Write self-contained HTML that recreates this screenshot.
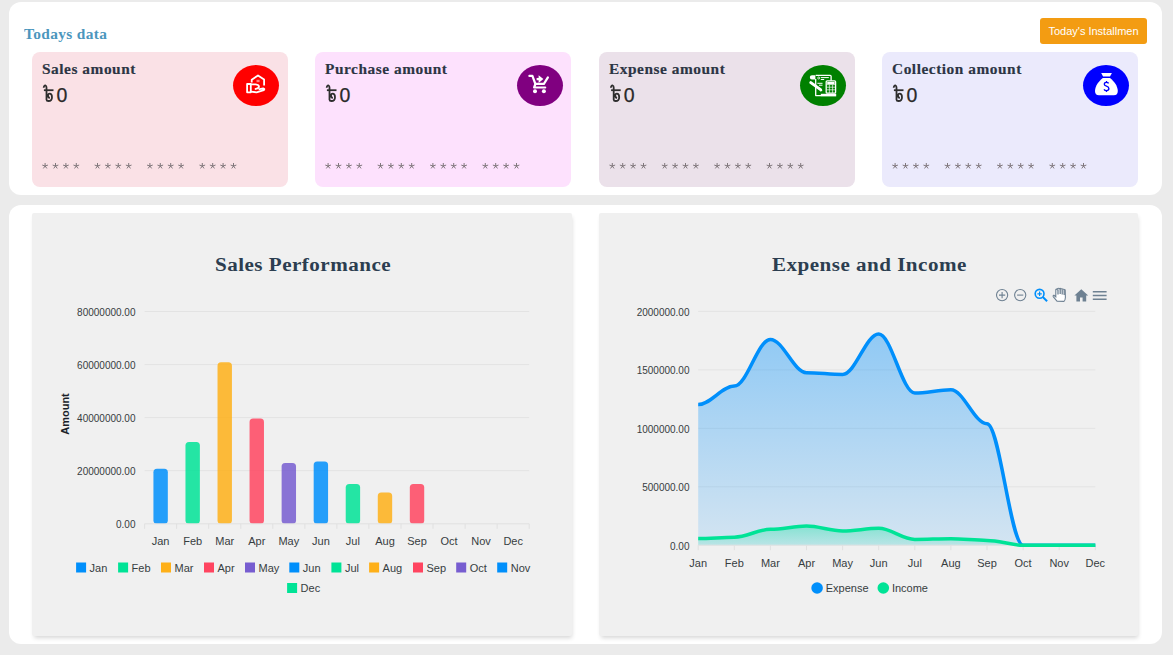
<!DOCTYPE html>
<html><head><meta charset="utf-8">
<style>
*{margin:0;padding:0;box-sizing:border-box}
html,body{width:1173px;height:655px;overflow:hidden;background:#ebebeb;font-family:"Liberation Sans",sans-serif}
.panel{position:absolute;left:9px;width:1153px;background:#fff;border-radius:12px}
.p1{top:2px;height:193px}
.p2{top:205px;height:439px}
.todays{position:absolute;left:24px;top:26px;font-family:"Liberation Serif",serif;font-weight:bold;font-size:14.5px;color:#4b96bd;letter-spacing:0.35px;transform:scaleX(1.06);transform-origin:0 0}
.btn{position:absolute;left:1040px;top:18px;width:107px;height:26px;background:#f39c12;border-radius:3px;color:#fff;font-size:11px;line-height:26px;text-align:center;letter-spacing:0px}
.card{position:absolute;top:52px;width:256px;height:135px;border-radius:8px}
.ct{position:absolute;left:9.5px;top:9px;font-family:"Liberation Serif",serif;font-weight:bold;font-size:14.5px;color:#2c3544;letter-spacing:0.5px;white-space:nowrap;-webkit-text-stroke:0.15px #2c3544;transform:scaleX(1.06);transform-origin:0 0}
.amt{position:absolute;left:11px;top:31px;height:24px;white-space:nowrap}
.tk{position:absolute;left:0;top:2px}
.zero{position:absolute;left:13.5px;top:-0.5px;font-size:19.5px;line-height:24px;color:#2a2a2a;-webkit-text-stroke:0.25px #2a2a2a}
.stars{position:absolute;left:10px;top:107px;font-size:11px;color:#777;letter-spacing:4.5px;white-space:pre;font-family:"Liberation Sans",sans-serif}
.ic{position:absolute;left:201px;top:13px;width:46px;height:41px;border-radius:50%}
.ic svg{position:absolute;left:12.5px;top:10px}
.chart{position:absolute;top:213px;height:423px;background:#f0f0f0;border-radius:2px;box-shadow:1px 3px 4px -1px rgba(0,0,0,0.16)}
.title{position:absolute;top:254px;font-family:"Liberation Serif",serif;font-weight:bold;font-size:19.2px;color:#2c3e50;white-space:nowrap;letter-spacing:0.42px;transform:scaleX(1.1);transform-origin:0 0}
svg.main{position:absolute;left:0;top:0}
.yl{font-size:10px;fill:#373d3f;font-family:"Liberation Sans",sans-serif}
.xl{font-size:11px;fill:#373d3f;font-family:"Liberation Sans",sans-serif}
.lg{font-size:11px;fill:#373d3f;font-family:"Liberation Sans",sans-serif}
.yt{font-size:11px;font-weight:bold;fill:#1b1f2a;font-family:"Liberation Sans",sans-serif}
</style></head><body>
<div class="panel p1"></div>
<div class="panel p2"></div>
<div class="todays">Todays data</div>
<div class="btn">Today's Installmen</div>
<div class="card" style="left:32px;background:#fae1e6">
  <div class="ct">Sales amount</div>
  <div class="amt"><span class="zero">0</span></div>
  <div class="ic" style="background:#ff0000;left:201.0px"></div>
</div><div class="card" style="left:315px;background:#fde1fd">
  <div class="ct">Purchase amount</div>
  <div class="amt"><span class="zero">0</span></div>
  <div class="ic" style="background:#800080;left:202.0px"></div>
</div><div class="card" style="left:599.2px;background:#ebe1ea">
  <div class="ct">Expense amount</div>
  <div class="amt"><span class="zero">0</span></div>
  <div class="ic" style="background:#008000;left:200.8px"></div>
</div><div class="card" style="left:882px;background:#ebeafc">
  <div class="ct">Collection amount</div>
  <div class="amt"><span class="zero">0</span></div>
  <div class="ic" style="background:#0000ff;left:201.0px"></div>
</div>
<div class="chart" style="left:32px;width:540px"></div>
<div class="chart" style="left:599px;width:539px"></div>
<div class="title" id="t1" style="left:215px">Sales Performance</div>
<div class="title" id="t2" style="left:772px">Expense and Income</div>
<svg class="main" width="1173" height="655" viewBox="0 0 1173 655">
<line x1="144.6" x2="529.2" y1="470.7" y2="470.7" stroke="#e3e3e3" stroke-width="1"/>
<line x1="144.6" x2="529.2" y1="417.6" y2="417.6" stroke="#e3e3e3" stroke-width="1"/>
<line x1="144.6" x2="529.2" y1="364.6" y2="364.6" stroke="#e3e3e3" stroke-width="1"/>
<line x1="144.6" x2="529.2" y1="311.5" y2="311.5" stroke="#e3e3e3" stroke-width="1"/>
<text x="135.5" y="527.9" text-anchor="end" class="yl">0.00</text>
<text x="135.5" y="474.8" text-anchor="end" class="yl">20000000.00</text>
<text x="135.5" y="421.7" text-anchor="end" class="yl">40000000.00</text>
<text x="135.5" y="368.7" text-anchor="end" class="yl">60000000.00</text>
<text x="135.5" y="315.6" text-anchor="end" class="yl">80000000.00</text>
<rect x="153.43" y="468.86" width="14.4" height="54.94" rx="3.5" fill="#008FFB" fill-opacity="0.85"/>
<rect x="185.47" y="442.06" width="14.4" height="81.74" rx="3.5" fill="#00E396" fill-opacity="0.85"/>
<rect x="217.53" y="362.17" width="14.4" height="161.63" rx="3.5" fill="#FEB019" fill-opacity="0.85"/>
<rect x="249.57" y="418.44" width="14.4" height="105.36" rx="3.5" fill="#FF4560" fill-opacity="0.85"/>
<rect x="281.62" y="463.02" width="14.4" height="60.78" rx="3.5" fill="#775DD0" fill-opacity="0.85"/>
<rect x="313.68" y="461.43" width="14.4" height="62.37" rx="3.5" fill="#008FFB" fill-opacity="0.85"/>
<rect x="345.72" y="483.99" width="14.4" height="39.81" rx="3.5" fill="#00E396" fill-opacity="0.85"/>
<rect x="377.77" y="492.48" width="14.4" height="31.32" rx="3.5" fill="#FEB019" fill-opacity="0.85"/>
<rect x="409.82" y="483.99" width="14.4" height="39.81" rx="3.5" fill="#FF4560" fill-opacity="0.85"/>
<line x1="144.6" x2="529.2" y1="523.8" y2="523.8" stroke="#e0e0e0" stroke-width="1"/>
<line x1="144.6" x2="144.6" y1="523.8" y2="528.8" stroke="#e0e0e0" stroke-width="1"/>
<line x1="176.6" x2="176.6" y1="523.8" y2="528.8" stroke="#e0e0e0" stroke-width="1"/>
<line x1="208.7" x2="208.7" y1="523.8" y2="528.8" stroke="#e0e0e0" stroke-width="1"/>
<line x1="240.8" x2="240.8" y1="523.8" y2="528.8" stroke="#e0e0e0" stroke-width="1"/>
<line x1="272.8" x2="272.8" y1="523.8" y2="528.8" stroke="#e0e0e0" stroke-width="1"/>
<line x1="304.9" x2="304.9" y1="523.8" y2="528.8" stroke="#e0e0e0" stroke-width="1"/>
<line x1="336.9" x2="336.9" y1="523.8" y2="528.8" stroke="#e0e0e0" stroke-width="1"/>
<line x1="368.9" x2="368.9" y1="523.8" y2="528.8" stroke="#e0e0e0" stroke-width="1"/>
<line x1="401.0" x2="401.0" y1="523.8" y2="528.8" stroke="#e0e0e0" stroke-width="1"/>
<line x1="433.0" x2="433.0" y1="523.8" y2="528.8" stroke="#e0e0e0" stroke-width="1"/>
<line x1="465.1" x2="465.1" y1="523.8" y2="528.8" stroke="#e0e0e0" stroke-width="1"/>
<line x1="497.1" x2="497.1" y1="523.8" y2="528.8" stroke="#e0e0e0" stroke-width="1"/>
<line x1="529.2" x2="529.2" y1="523.8" y2="528.8" stroke="#e0e0e0" stroke-width="1"/>
<text x="160.6" y="545" text-anchor="middle" class="xl">Jan</text>
<text x="192.7" y="545" text-anchor="middle" class="xl">Feb</text>
<text x="224.7" y="545" text-anchor="middle" class="xl">Mar</text>
<text x="256.8" y="545" text-anchor="middle" class="xl">Apr</text>
<text x="288.8" y="545" text-anchor="middle" class="xl">May</text>
<text x="320.9" y="545" text-anchor="middle" class="xl">Jun</text>
<text x="352.9" y="545" text-anchor="middle" class="xl">Jul</text>
<text x="385.0" y="545" text-anchor="middle" class="xl">Aug</text>
<text x="417.0" y="545" text-anchor="middle" class="xl">Sep</text>
<text x="449.1" y="545" text-anchor="middle" class="xl">Oct</text>
<text x="481.1" y="545" text-anchor="middle" class="xl">Nov</text>
<text x="513.2" y="545" text-anchor="middle" class="xl">Dec</text>
<text transform="translate(68.5,414) rotate(-90)" text-anchor="middle" class="yt">Amount</text>
<rect x="76.1" y="562.5" width="10" height="10" fill="#008FFB"/>
<text x="89.6" y="571.8" class="lg">Jan</text>
<rect x="118.1" y="562.5" width="10" height="10" fill="#00E396"/>
<text x="131.6" y="571.8" class="lg">Feb</text>
<rect x="161.0" y="562.5" width="10" height="10" fill="#FEB019"/>
<text x="174.5" y="571.8" class="lg">Mar</text>
<rect x="204.0" y="562.5" width="10" height="10" fill="#FF4560"/>
<text x="217.5" y="571.8" class="lg">Apr</text>
<rect x="245.0" y="562.5" width="10" height="10" fill="#775DD0"/>
<text x="258.5" y="571.8" class="lg">May</text>
<rect x="289.3" y="562.5" width="10" height="10" fill="#008FFB"/>
<text x="302.8" y="571.8" class="lg">Jun</text>
<rect x="331.4" y="562.5" width="10" height="10" fill="#00E396"/>
<text x="344.9" y="571.8" class="lg">Jul</text>
<rect x="369.1" y="562.5" width="10" height="10" fill="#FEB019"/>
<text x="382.6" y="571.8" class="lg">Aug</text>
<rect x="413.0" y="562.5" width="10" height="10" fill="#FF4560"/>
<text x="426.5" y="571.8" class="lg">Sep</text>
<rect x="456.2" y="562.5" width="10" height="10" fill="#775DD0"/>
<text x="469.7" y="571.8" class="lg">Oct</text>
<rect x="497.2" y="562.5" width="10" height="10" fill="#008FFB"/>
<text x="510.7" y="571.8" class="lg">Nov</text>
<rect x="287.1" y="583" width="10" height="10" fill="#00E396"/>
<text x="300.6" y="592.3" class="lg">Dec</text>
<defs><linearGradient id="ge" x1="0" y1="0" x2="0" y2="1"><stop offset="0" stop-color="#008FFB" stop-opacity="0.40"/><stop offset="1" stop-color="#008FFB" stop-opacity="0.12"/></linearGradient><linearGradient id="gi" x1="0" y1="0" x2="0" y2="1"><stop offset="0" stop-color="#00E396" stop-opacity="0.35"/><stop offset="1" stop-color="#00E396" stop-opacity="0.12"/></linearGradient></defs>
<text x="689.5" y="549.5" text-anchor="end" class="yl">0.00</text>
<line x1="698.2" x2="1095.3" y1="486.8" y2="486.8" stroke="#e3e3e3" stroke-width="1"/>
<text x="689.5" y="491.1" text-anchor="end" class="yl">500000.00</text>
<line x1="698.2" x2="1095.3" y1="428.3" y2="428.3" stroke="#e3e3e3" stroke-width="1"/>
<text x="689.5" y="432.6" text-anchor="end" class="yl">1000000.00</text>
<line x1="698.2" x2="1095.3" y1="369.9" y2="369.9" stroke="#e3e3e3" stroke-width="1"/>
<text x="689.5" y="374.2" text-anchor="end" class="yl">1500000.00</text>
<line x1="698.2" x2="1095.3" y1="311.4" y2="311.4" stroke="#e3e3e3" stroke-width="1"/>
<text x="689.5" y="315.7" text-anchor="end" class="yl">2000000.00</text>
<path d="M 698.20 404.50 C 710.84 404.50 721.67 386.10 734.30 386.10 C 746.94 386.10 757.77 339.40 770.40 339.40 C 783.04 339.40 793.87 372.70 806.50 372.70 C 819.13 372.70 829.97 374.50 842.60 374.50 C 855.24 374.50 866.07 334.00 878.70 334.00 C 891.34 334.00 902.17 393.00 914.80 393.00 C 927.44 393.00 938.27 389.80 950.90 389.80 C 963.54 389.80 974.37 423.70 987.00 423.70 C 999.63 423.70 1010.47 545.20 1023.10 545.20 C 1035.74 545.20 1046.57 545.20 1059.20 545.20 C 1071.84 545.20 1082.67 545.20 1095.30 545.20 L 1095.30 545.2 L 698.20 545.2 Z" fill="url(#ge)"/>
<path d="M 698.20 538.60 C 710.84 538.60 721.67 537.20 734.30 537.20 C 746.94 537.20 757.77 529.30 770.40 529.30 C 783.04 529.30 793.87 526.10 806.50 526.10 C 819.13 526.10 829.97 531.00 842.60 531.00 C 855.24 531.00 866.07 528.30 878.70 528.30 C 891.34 528.30 902.17 539.40 914.80 539.40 C 927.44 539.40 938.27 538.80 950.90 538.80 C 963.54 538.80 974.37 540.40 987.00 540.40 C 999.63 540.40 1010.47 545.20 1023.10 545.20 C 1035.74 545.20 1046.57 545.20 1059.20 545.20 C 1071.84 545.20 1082.67 545.20 1095.30 545.20 L 1095.30 545.2 L 698.20 545.2 Z" fill="url(#gi)"/>
<line x1="698.2" x2="1095.3" y1="545.2" y2="545.2" stroke="#e0e0e0" stroke-width="1"/>
<line x1="698.2" x2="698.2" y1="545.2" y2="550.2" stroke="#e0e0e0" stroke-width="1"/>
<line x1="734.3" x2="734.3" y1="545.2" y2="550.2" stroke="#e0e0e0" stroke-width="1"/>
<line x1="770.4" x2="770.4" y1="545.2" y2="550.2" stroke="#e0e0e0" stroke-width="1"/>
<line x1="806.5" x2="806.5" y1="545.2" y2="550.2" stroke="#e0e0e0" stroke-width="1"/>
<line x1="842.6" x2="842.6" y1="545.2" y2="550.2" stroke="#e0e0e0" stroke-width="1"/>
<line x1="878.7" x2="878.7" y1="545.2" y2="550.2" stroke="#e0e0e0" stroke-width="1"/>
<line x1="914.8" x2="914.8" y1="545.2" y2="550.2" stroke="#e0e0e0" stroke-width="1"/>
<line x1="950.9" x2="950.9" y1="545.2" y2="550.2" stroke="#e0e0e0" stroke-width="1"/>
<line x1="987.0" x2="987.0" y1="545.2" y2="550.2" stroke="#e0e0e0" stroke-width="1"/>
<line x1="1023.1" x2="1023.1" y1="545.2" y2="550.2" stroke="#e0e0e0" stroke-width="1"/>
<line x1="1059.2" x2="1059.2" y1="545.2" y2="550.2" stroke="#e0e0e0" stroke-width="1"/>
<line x1="1095.3" x2="1095.3" y1="545.2" y2="550.2" stroke="#e0e0e0" stroke-width="1"/>
<path d="M 698.20 404.50 C 710.84 404.50 721.67 386.10 734.30 386.10 C 746.94 386.10 757.77 339.40 770.40 339.40 C 783.04 339.40 793.87 372.70 806.50 372.70 C 819.13 372.70 829.97 374.50 842.60 374.50 C 855.24 374.50 866.07 334.00 878.70 334.00 C 891.34 334.00 902.17 393.00 914.80 393.00 C 927.44 393.00 938.27 389.80 950.90 389.80 C 963.54 389.80 974.37 423.70 987.00 423.70 C 999.63 423.70 1010.47 545.20 1023.10 545.20 C 1035.74 545.20 1046.57 545.20 1059.20 545.20 C 1071.84 545.20 1082.67 545.20 1095.30 545.20" fill="none" stroke="#008FFB" stroke-width="3.5" stroke-linecap="butt"/>
<path d="M 698.20 538.60 C 710.84 538.60 721.67 537.20 734.30 537.20 C 746.94 537.20 757.77 529.30 770.40 529.30 C 783.04 529.30 793.87 526.10 806.50 526.10 C 819.13 526.10 829.97 531.00 842.60 531.00 C 855.24 531.00 866.07 528.30 878.70 528.30 C 891.34 528.30 902.17 539.40 914.80 539.40 C 927.44 539.40 938.27 538.80 950.90 538.80 C 963.54 538.80 974.37 540.40 987.00 540.40 C 999.63 540.40 1010.47 545.20 1023.10 545.20 C 1035.74 545.20 1046.57 545.20 1059.20 545.20 C 1071.84 545.20 1082.67 545.20 1095.30 545.20" fill="none" stroke="#00E396" stroke-width="3.5" stroke-linecap="butt"/>
<text x="698.2" y="567" text-anchor="middle" class="xl">Jan</text>
<text x="734.3" y="567" text-anchor="middle" class="xl">Feb</text>
<text x="770.4" y="567" text-anchor="middle" class="xl">Mar</text>
<text x="806.5" y="567" text-anchor="middle" class="xl">Apr</text>
<text x="842.6" y="567" text-anchor="middle" class="xl">May</text>
<text x="878.7" y="567" text-anchor="middle" class="xl">Jun</text>
<text x="914.8" y="567" text-anchor="middle" class="xl">Jul</text>
<text x="950.9" y="567" text-anchor="middle" class="xl">Aug</text>
<text x="987.0" y="567" text-anchor="middle" class="xl">Sep</text>
<text x="1023.1" y="567" text-anchor="middle" class="xl">Oct</text>
<text x="1059.2" y="567" text-anchor="middle" class="xl">Nov</text>
<text x="1095.3" y="567" text-anchor="middle" class="xl">Dec</text>
<circle cx="817.1" cy="588" r="5.8" fill="#008FFB"/><text x="825.7" y="592" class="lg">Expense</text>
<circle cx="883.3" cy="588" r="5.8" fill="#00E396"/><text x="891.9" y="592" class="lg">Income</text>
<g fill="none" stroke="#6E8192" stroke-width="1.1"><circle cx="1002.1" cy="295.1" r="5.6"/><path d="M1002.1 292v6.2M999 295.1h6.2"/><circle cx="1020.2" cy="295.1" r="5.6"/><path d="M1017.1 295.1h6.2"/></g>
<g fill="none" stroke="#008FFB" stroke-width="1.6"><circle cx="1039.6" cy="293.8" r="4.4"/><path d="M1042.8 297l4.3 4.2" stroke-width="2"/><path d="M1039.6 291.6v4.4M1037.4 293.8h4.4" stroke-width="1.2"/></g>
<path d="M1057 301.2 L1053.4 296.8 Q1052.6 295.6 1053.8 295.2 L1055.8 296.8 L1055.8 289.6 Q1056.4 288.6 1057.2 289.6 L1057.4 288.6 Q1058.4 287.8 1059.2 288.8 Q1060.2 288 1061.2 289 Q1062.2 288.4 1063 289.4 Q1064 289 1065.2 290 L1065.4 297.5 Q1065.2 300.6 1064 301.4 Z" fill="#fff" stroke="#6E8192" stroke-width="1.1"/>
<path d="M1058 289.4v5M1060.2 289v5M1062.2 289.4v5M1064.2 290v5" stroke="#6E8192" stroke-width="1.3"/>
<path d="M1074.4 295.6 L1081.3 289.2 L1088.2 295.6 L1086.2 295.6 L1086.2 301.4 L1082.6 301.4 L1082.6 297.6 L1080 297.6 L1080 301.4 L1076.4 301.4 L1076.4 295.6 Z" fill="#6E8192"/>
<path d="M1092.8 291.7h13.8M1092.8 295.4h13.8M1092.8 299.2h13.8" stroke="#6E8192" stroke-width="1.5"/>
<g fill="none" stroke="#fff" stroke-width="1.8" stroke-linejoin="round"><path d="M251.7 82.6 V79.8 L258 75.4 L264.1 79.6 V85.6"/><rect x="247.1" y="84" width="3.7" height="8.3"/><path d="M250.8 84.4 H255.6 Q259 84.8 259 86.9 Q258.8 88.6 254.8 89.1"/><path d="M250.8 91.6 L256.6 92.3 L263.8 90.2 Q265.2 88.6 263.2 88.3 L258.6 89.4"/></g><rect x="256.5" y="79.8" width="3.1" height="2.4" fill="#fff" fill-opacity="0.5"/>
<g fill="none" stroke="#fff" stroke-width="2.2" stroke-linejoin="round" stroke-linecap="round"><path d="M529.4 75.9 H532.4 L535.4 84 L534.1 87.5 H545.2"/><path d="M535.4 83.9 H543.9 L547.9 77.4"/><path d="M536.6 79.1 H540.2" stroke-width="2.3" stroke-linecap="butt"/></g><path d="M538.6 75.2 L543.4 79.1 L538.6 83 Z" fill="#fff"/><circle cx="535" cy="91.3" r="2" fill="#fff"/><circle cx="543.9" cy="91.3" r="2" fill="#fff"/>
<g fill="none" stroke="#fff" stroke-linejoin="round"><path d="M815.7 79 V95.6 H821 M815.7 75.3 H830.2 Q831.1 75.3 831.1 76.2 V80.8" stroke-width="1.3"/><rect x="826.2" y="80.8" width="9.4" height="12.4" rx="1" stroke-width="1.3"/><rect x="827.2" y="82" width="7.4" height="2.2" fill="#fff" stroke="none"/><path d="M826.6 84.6 H835.2 M826.6 87.2 H835.2 M826.6 89.8 H835.2 M829.4 84.6 V93 M832.6 84.6 V93" stroke-width="0.8" stroke-opacity="0.85"/><path d="M820.8 77.6 H828.8 M820.8 79.5 H824.2 M817.4 83.3 H822.5 M819 85.2 H822.5" stroke-width="1"/><path d="M810.8 82.6 L820.6 89.6" stroke-width="3" stroke-linecap="round"/></g><path d="M809.8 77 Q810 75.3 812 75.3 H815.4 V79.6 H812 Q809.8 79.6 809.8 77 Z" fill="#fff"/><path d="M820 91.4 L822.4 91 L821.6 89 Z" fill="#fff"/><rect x="820.8" y="93.8" width="15.4" height="2.6" fill="#fff"/><circle cx="818.7" cy="78" r="1" fill="none" stroke="#fff" stroke-width="0.8"/>
<path d="M1101.2 73 H1111.9 L1110 76.6 H1103.1 Z" fill="#fff"/><path d="M1102.8 77.9 H1110 C1114 81 1117.8 86 1117.8 91 Q1117.8 95.2 1113.8 95.2 H1099 Q1095 95.2 1095 91 C1095 86 1098.8 81 1102.8 77.9 Z" fill="#fff"/><path d="M1108.6 83.4 Q1108 82.4 1106.5 82.4 Q1104.3 82.4 1104.3 84.2 Q1104.3 85.6 1106.5 86.2 Q1108.9 86.9 1108.9 88.6 Q1108.9 90.6 1106.5 90.6 Q1104.7 90.6 1104 89.4 M1106.5 81 V82.4 M1106.5 90.6 V92" fill="none" stroke="#0000ff" stroke-width="1.35"/>
<g stroke="#7a7276" stroke-width="0.95" fill="none"><path d="M45.10 166.00l0.00 -3.00M45.10 166.00l2.85 -0.93M45.10 166.00l1.76 2.43M45.10 166.00l-1.76 2.43M45.10 166.00l-2.85 -0.93"/><path d="M55.50 166.00l0.00 -3.00M55.50 166.00l2.85 -0.93M55.50 166.00l1.76 2.43M55.50 166.00l-1.76 2.43M55.50 166.00l-2.85 -0.93"/><path d="M65.90 166.00l0.00 -3.00M65.90 166.00l2.85 -0.93M65.90 166.00l1.76 2.43M65.90 166.00l-1.76 2.43M65.90 166.00l-2.85 -0.93"/><path d="M76.30 166.00l0.00 -3.00M76.30 166.00l2.85 -0.93M76.30 166.00l1.76 2.43M76.30 166.00l-1.76 2.43M76.30 166.00l-2.85 -0.93"/><path d="M97.50 166.00l0.00 -3.00M97.50 166.00l2.85 -0.93M97.50 166.00l1.76 2.43M97.50 166.00l-1.76 2.43M97.50 166.00l-2.85 -0.93"/><path d="M107.90 166.00l0.00 -3.00M107.90 166.00l2.85 -0.93M107.90 166.00l1.76 2.43M107.90 166.00l-1.76 2.43M107.90 166.00l-2.85 -0.93"/><path d="M118.30 166.00l0.00 -3.00M118.30 166.00l2.85 -0.93M118.30 166.00l1.76 2.43M118.30 166.00l-1.76 2.43M118.30 166.00l-2.85 -0.93"/><path d="M128.70 166.00l0.00 -3.00M128.70 166.00l2.85 -0.93M128.70 166.00l1.76 2.43M128.70 166.00l-1.76 2.43M128.70 166.00l-2.85 -0.93"/><path d="M149.90 166.00l0.00 -3.00M149.90 166.00l2.85 -0.93M149.90 166.00l1.76 2.43M149.90 166.00l-1.76 2.43M149.90 166.00l-2.85 -0.93"/><path d="M160.30 166.00l0.00 -3.00M160.30 166.00l2.85 -0.93M160.30 166.00l1.76 2.43M160.30 166.00l-1.76 2.43M160.30 166.00l-2.85 -0.93"/><path d="M170.70 166.00l0.00 -3.00M170.70 166.00l2.85 -0.93M170.70 166.00l1.76 2.43M170.70 166.00l-1.76 2.43M170.70 166.00l-2.85 -0.93"/><path d="M181.10 166.00l0.00 -3.00M181.10 166.00l2.85 -0.93M181.10 166.00l1.76 2.43M181.10 166.00l-1.76 2.43M181.10 166.00l-2.85 -0.93"/><path d="M202.30 166.00l0.00 -3.00M202.30 166.00l2.85 -0.93M202.30 166.00l1.76 2.43M202.30 166.00l-1.76 2.43M202.30 166.00l-2.85 -0.93"/><path d="M212.70 166.00l0.00 -3.00M212.70 166.00l2.85 -0.93M212.70 166.00l1.76 2.43M212.70 166.00l-1.76 2.43M212.70 166.00l-2.85 -0.93"/><path d="M223.10 166.00l0.00 -3.00M223.10 166.00l2.85 -0.93M223.10 166.00l1.76 2.43M223.10 166.00l-1.76 2.43M223.10 166.00l-2.85 -0.93"/><path d="M233.50 166.00l0.00 -3.00M233.50 166.00l2.85 -0.93M233.50 166.00l1.76 2.43M233.50 166.00l-1.76 2.43M233.50 166.00l-2.85 -0.93"/><path d="M328.10 166.00l0.00 -3.00M328.10 166.00l2.85 -0.93M328.10 166.00l1.76 2.43M328.10 166.00l-1.76 2.43M328.10 166.00l-2.85 -0.93"/><path d="M338.50 166.00l0.00 -3.00M338.50 166.00l2.85 -0.93M338.50 166.00l1.76 2.43M338.50 166.00l-1.76 2.43M338.50 166.00l-2.85 -0.93"/><path d="M348.90 166.00l0.00 -3.00M348.90 166.00l2.85 -0.93M348.90 166.00l1.76 2.43M348.90 166.00l-1.76 2.43M348.90 166.00l-2.85 -0.93"/><path d="M359.30 166.00l0.00 -3.00M359.30 166.00l2.85 -0.93M359.30 166.00l1.76 2.43M359.30 166.00l-1.76 2.43M359.30 166.00l-2.85 -0.93"/><path d="M380.50 166.00l0.00 -3.00M380.50 166.00l2.85 -0.93M380.50 166.00l1.76 2.43M380.50 166.00l-1.76 2.43M380.50 166.00l-2.85 -0.93"/><path d="M390.90 166.00l0.00 -3.00M390.90 166.00l2.85 -0.93M390.90 166.00l1.76 2.43M390.90 166.00l-1.76 2.43M390.90 166.00l-2.85 -0.93"/><path d="M401.30 166.00l0.00 -3.00M401.30 166.00l2.85 -0.93M401.30 166.00l1.76 2.43M401.30 166.00l-1.76 2.43M401.30 166.00l-2.85 -0.93"/><path d="M411.70 166.00l0.00 -3.00M411.70 166.00l2.85 -0.93M411.70 166.00l1.76 2.43M411.70 166.00l-1.76 2.43M411.70 166.00l-2.85 -0.93"/><path d="M432.90 166.00l0.00 -3.00M432.90 166.00l2.85 -0.93M432.90 166.00l1.76 2.43M432.90 166.00l-1.76 2.43M432.90 166.00l-2.85 -0.93"/><path d="M443.30 166.00l0.00 -3.00M443.30 166.00l2.85 -0.93M443.30 166.00l1.76 2.43M443.30 166.00l-1.76 2.43M443.30 166.00l-2.85 -0.93"/><path d="M453.70 166.00l0.00 -3.00M453.70 166.00l2.85 -0.93M453.70 166.00l1.76 2.43M453.70 166.00l-1.76 2.43M453.70 166.00l-2.85 -0.93"/><path d="M464.10 166.00l0.00 -3.00M464.10 166.00l2.85 -0.93M464.10 166.00l1.76 2.43M464.10 166.00l-1.76 2.43M464.10 166.00l-2.85 -0.93"/><path d="M485.30 166.00l0.00 -3.00M485.30 166.00l2.85 -0.93M485.30 166.00l1.76 2.43M485.30 166.00l-1.76 2.43M485.30 166.00l-2.85 -0.93"/><path d="M495.70 166.00l0.00 -3.00M495.70 166.00l2.85 -0.93M495.70 166.00l1.76 2.43M495.70 166.00l-1.76 2.43M495.70 166.00l-2.85 -0.93"/><path d="M506.10 166.00l0.00 -3.00M506.10 166.00l2.85 -0.93M506.10 166.00l1.76 2.43M506.10 166.00l-1.76 2.43M506.10 166.00l-2.85 -0.93"/><path d="M516.50 166.00l0.00 -3.00M516.50 166.00l2.85 -0.93M516.50 166.00l1.76 2.43M516.50 166.00l-1.76 2.43M516.50 166.00l-2.85 -0.93"/><path d="M612.30 166.00l0.00 -3.00M612.30 166.00l2.85 -0.93M612.30 166.00l1.76 2.43M612.30 166.00l-1.76 2.43M612.30 166.00l-2.85 -0.93"/><path d="M622.70 166.00l0.00 -3.00M622.70 166.00l2.85 -0.93M622.70 166.00l1.76 2.43M622.70 166.00l-1.76 2.43M622.70 166.00l-2.85 -0.93"/><path d="M633.10 166.00l0.00 -3.00M633.10 166.00l2.85 -0.93M633.10 166.00l1.76 2.43M633.10 166.00l-1.76 2.43M633.10 166.00l-2.85 -0.93"/><path d="M643.50 166.00l0.00 -3.00M643.50 166.00l2.85 -0.93M643.50 166.00l1.76 2.43M643.50 166.00l-1.76 2.43M643.50 166.00l-2.85 -0.93"/><path d="M664.70 166.00l0.00 -3.00M664.70 166.00l2.85 -0.93M664.70 166.00l1.76 2.43M664.70 166.00l-1.76 2.43M664.70 166.00l-2.85 -0.93"/><path d="M675.10 166.00l0.00 -3.00M675.10 166.00l2.85 -0.93M675.10 166.00l1.76 2.43M675.10 166.00l-1.76 2.43M675.10 166.00l-2.85 -0.93"/><path d="M685.50 166.00l0.00 -3.00M685.50 166.00l2.85 -0.93M685.50 166.00l1.76 2.43M685.50 166.00l-1.76 2.43M685.50 166.00l-2.85 -0.93"/><path d="M695.90 166.00l0.00 -3.00M695.90 166.00l2.85 -0.93M695.90 166.00l1.76 2.43M695.90 166.00l-1.76 2.43M695.90 166.00l-2.85 -0.93"/><path d="M717.10 166.00l0.00 -3.00M717.10 166.00l2.85 -0.93M717.10 166.00l1.76 2.43M717.10 166.00l-1.76 2.43M717.10 166.00l-2.85 -0.93"/><path d="M727.50 166.00l0.00 -3.00M727.50 166.00l2.85 -0.93M727.50 166.00l1.76 2.43M727.50 166.00l-1.76 2.43M727.50 166.00l-2.85 -0.93"/><path d="M737.90 166.00l0.00 -3.00M737.90 166.00l2.85 -0.93M737.90 166.00l1.76 2.43M737.90 166.00l-1.76 2.43M737.90 166.00l-2.85 -0.93"/><path d="M748.30 166.00l0.00 -3.00M748.30 166.00l2.85 -0.93M748.30 166.00l1.76 2.43M748.30 166.00l-1.76 2.43M748.30 166.00l-2.85 -0.93"/><path d="M769.50 166.00l0.00 -3.00M769.50 166.00l2.85 -0.93M769.50 166.00l1.76 2.43M769.50 166.00l-1.76 2.43M769.50 166.00l-2.85 -0.93"/><path d="M779.90 166.00l0.00 -3.00M779.90 166.00l2.85 -0.93M779.90 166.00l1.76 2.43M779.90 166.00l-1.76 2.43M779.90 166.00l-2.85 -0.93"/><path d="M790.30 166.00l0.00 -3.00M790.30 166.00l2.85 -0.93M790.30 166.00l1.76 2.43M790.30 166.00l-1.76 2.43M790.30 166.00l-2.85 -0.93"/><path d="M800.70 166.00l0.00 -3.00M800.70 166.00l2.85 -0.93M800.70 166.00l1.76 2.43M800.70 166.00l-1.76 2.43M800.70 166.00l-2.85 -0.93"/><path d="M895.10 166.00l0.00 -3.00M895.10 166.00l2.85 -0.93M895.10 166.00l1.76 2.43M895.10 166.00l-1.76 2.43M895.10 166.00l-2.85 -0.93"/><path d="M905.50 166.00l0.00 -3.00M905.50 166.00l2.85 -0.93M905.50 166.00l1.76 2.43M905.50 166.00l-1.76 2.43M905.50 166.00l-2.85 -0.93"/><path d="M915.90 166.00l0.00 -3.00M915.90 166.00l2.85 -0.93M915.90 166.00l1.76 2.43M915.90 166.00l-1.76 2.43M915.90 166.00l-2.85 -0.93"/><path d="M926.30 166.00l0.00 -3.00M926.30 166.00l2.85 -0.93M926.30 166.00l1.76 2.43M926.30 166.00l-1.76 2.43M926.30 166.00l-2.85 -0.93"/><path d="M947.50 166.00l0.00 -3.00M947.50 166.00l2.85 -0.93M947.50 166.00l1.76 2.43M947.50 166.00l-1.76 2.43M947.50 166.00l-2.85 -0.93"/><path d="M957.90 166.00l0.00 -3.00M957.90 166.00l2.85 -0.93M957.90 166.00l1.76 2.43M957.90 166.00l-1.76 2.43M957.90 166.00l-2.85 -0.93"/><path d="M968.30 166.00l0.00 -3.00M968.30 166.00l2.85 -0.93M968.30 166.00l1.76 2.43M968.30 166.00l-1.76 2.43M968.30 166.00l-2.85 -0.93"/><path d="M978.70 166.00l0.00 -3.00M978.70 166.00l2.85 -0.93M978.70 166.00l1.76 2.43M978.70 166.00l-1.76 2.43M978.70 166.00l-2.85 -0.93"/><path d="M999.90 166.00l0.00 -3.00M999.90 166.00l2.85 -0.93M999.90 166.00l1.76 2.43M999.90 166.00l-1.76 2.43M999.90 166.00l-2.85 -0.93"/><path d="M1010.30 166.00l0.00 -3.00M1010.30 166.00l2.85 -0.93M1010.30 166.00l1.76 2.43M1010.30 166.00l-1.76 2.43M1010.30 166.00l-2.85 -0.93"/><path d="M1020.70 166.00l0.00 -3.00M1020.70 166.00l2.85 -0.93M1020.70 166.00l1.76 2.43M1020.70 166.00l-1.76 2.43M1020.70 166.00l-2.85 -0.93"/><path d="M1031.10 166.00l0.00 -3.00M1031.10 166.00l2.85 -0.93M1031.10 166.00l1.76 2.43M1031.10 166.00l-1.76 2.43M1031.10 166.00l-2.85 -0.93"/><path d="M1052.30 166.00l0.00 -3.00M1052.30 166.00l2.85 -0.93M1052.30 166.00l1.76 2.43M1052.30 166.00l-1.76 2.43M1052.30 166.00l-2.85 -0.93"/><path d="M1062.70 166.00l0.00 -3.00M1062.70 166.00l2.85 -0.93M1062.70 166.00l1.76 2.43M1062.70 166.00l-1.76 2.43M1062.70 166.00l-2.85 -0.93"/><path d="M1073.10 166.00l0.00 -3.00M1073.10 166.00l2.85 -0.93M1073.10 166.00l1.76 2.43M1073.10 166.00l-1.76 2.43M1073.10 166.00l-2.85 -0.93"/><path d="M1083.50 166.00l0.00 -3.00M1083.50 166.00l2.85 -0.93M1083.50 166.00l1.76 2.43M1083.50 166.00l-1.76 2.43M1083.50 166.00l-2.85 -0.93"/></g>
<g transform="translate(0,0)" fill="none" stroke="#2e2e2e" stroke-width="1.8"><path d="M43.7 87.8 Q43.9 85.3 45.5 85.5 Q46.5 85.8 46.5 87.6 V99.6 Q46.6 101 48.4 101 Q52 101 52 97.2 Q52 93.6 49.7 93.6 Q48 93.6 48 95.6 Q48 97.6 49.8 98.2"/><path d="M43.9 90.2 H53.5"/></g><g transform="translate(283,0)" fill="none" stroke="#2e2e2e" stroke-width="1.8"><path d="M43.7 87.8 Q43.9 85.3 45.5 85.5 Q46.5 85.8 46.5 87.6 V99.6 Q46.6 101 48.4 101 Q52 101 52 97.2 Q52 93.6 49.7 93.6 Q48 93.6 48 95.6 Q48 97.6 49.8 98.2"/><path d="M43.9 90.2 H53.5"/></g><g transform="translate(567.2,0)" fill="none" stroke="#2e2e2e" stroke-width="1.8"><path d="M43.7 87.8 Q43.9 85.3 45.5 85.5 Q46.5 85.8 46.5 87.6 V99.6 Q46.6 101 48.4 101 Q52 101 52 97.2 Q52 93.6 49.7 93.6 Q48 93.6 48 95.6 Q48 97.6 49.8 98.2"/><path d="M43.9 90.2 H53.5"/></g><g transform="translate(850,0)" fill="none" stroke="#2e2e2e" stroke-width="1.8"><path d="M43.7 87.8 Q43.9 85.3 45.5 85.5 Q46.5 85.8 46.5 87.6 V99.6 Q46.6 101 48.4 101 Q52 101 52 97.2 Q52 93.6 49.7 93.6 Q48 93.6 48 95.6 Q48 97.6 49.8 98.2"/><path d="M43.9 90.2 H53.5"/></g>
</svg>
</body></html>
